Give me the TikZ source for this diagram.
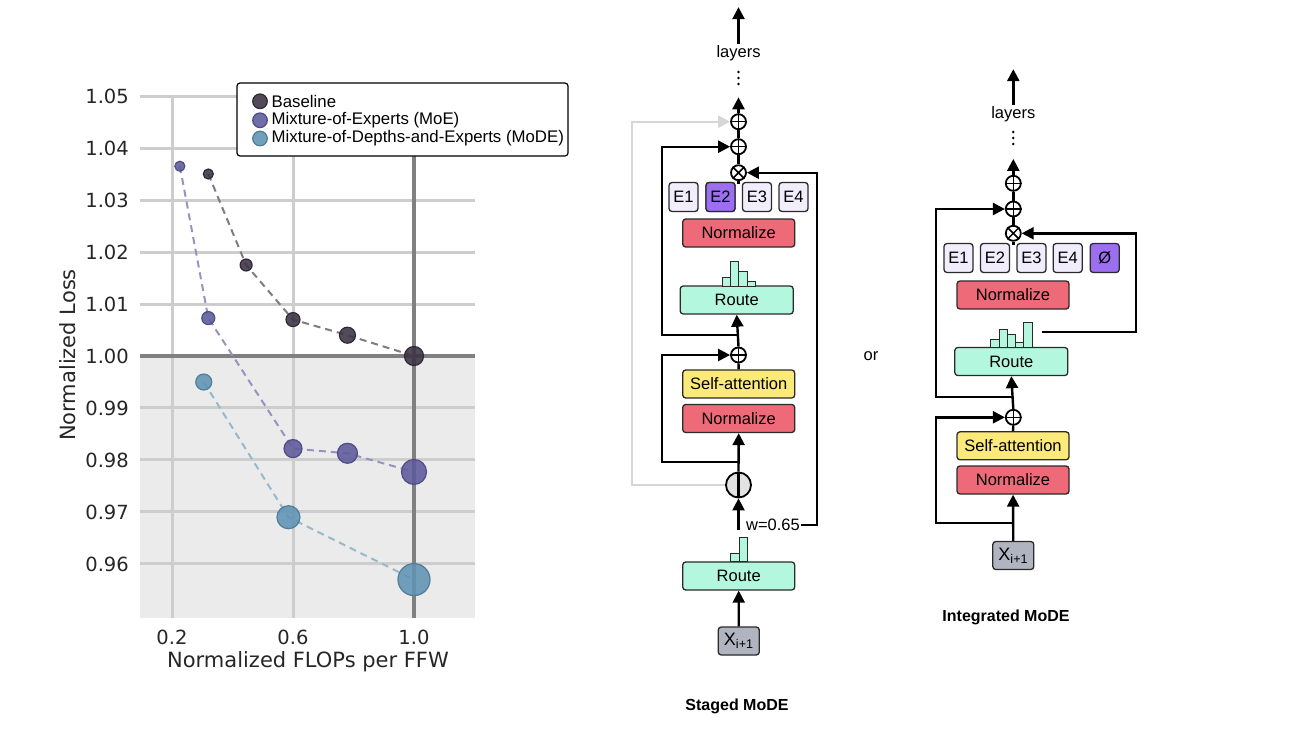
\documentclass[tikz,border=0pt]{standalone}
\usepackage{fontspec}
\setmainfont{Liberation Sans}
\newfontfamily\plotfont{DejaVu Sans}
\usetikzlibrary{arrows.meta}

\definecolor{routecol}{HTML}{B4F7DF}
\definecolor{normcol}{HTML}{EE6A78}
\definecolor{attncol}{HTML}{FBE97A}
\definecolor{expcol}{HTML}{F1EDFD}
\definecolor{hotcol}{HTML}{9C6EF0}
\definecolor{inpcol}{HTML}{B0B4C0}
\definecolor{gatecol}{HTML}{E2E2E2}
\definecolor{skipcol}{HTML}{D6D6D6}
\definecolor{basecol}{HTML}{3B3243}
\definecolor{moecol}{HTML}{5D5A9B}
\definecolor{modecol}{HTML}{5E93B4}
\definecolor{gridcol}{HTML}{CDCDCD}
\definecolor{axiscol}{HTML}{808080}
\definecolor{bgcol}{HTML}{EBEBEB}
\definecolor{inkcol}{HTML}{2A2A2A}

\tikzset{
  blk/.style={draw=inkcol, line width=1.3pt, rounded corners=3pt, minimum width=112pt, minimum height=28pt, inner sep=0pt, font=\fontsize{16.5pt}{19pt}\selectfont},
  expbox/.style={blk, fill=expcol, minimum width=29pt, minimum height=29pt},
  sumop/.style={circle, draw=black, line width=1.8pt, fill=white, minimum size=15pt, inner sep=0pt},
  arr/.style={line width=2.4pt, -{Triangle[length=12pt,width=12pt]}},
  lnk/.style={line width=2.4pt},
  hbar/.style={draw=inkcol, line width=1pt, fill=routecol},
  lab/.style={font=\fontsize{16.5pt}{19pt}\selectfont, inner sep=1pt},
  ticklab/.style={font=\plotfont\fontsize{19.5pt}{23pt}\selectfont, text=black!85, inner sep=0pt},
  baseln/.style={dashed, dash pattern=on 7pt off 5pt, line width=2pt, basecol!65},
  moeln/.style={dashed, dash pattern=on 7pt off 5pt, line width=2pt, moecol!65},
  modeln/.style={dashed, dash pattern=on 7pt off 5pt, line width=2pt, modecol!65},
  basept/.style={fill=basecol, fill opacity=.88, draw=basecol!80!black, line width=1.2pt},
  moept/.style={fill=moecol, fill opacity=.88, draw=moecol!85!black, line width=1.2pt},
  modept/.style={fill=modecol, fill opacity=.88, draw=modecol!85!black, line width=1.2pt}
}

\begin{document}
\begin{tikzpicture}[x=1pt,y=-1pt]
\useasboundingbox (0,0) rectangle (1312,752);

% plot
\begin{scope}[shift={(111.5,356)}, x=302.5pt, y=5200pt]
\fill[bgcol] (0.0942,0) rectangle (1.2017,-0.0504);
\foreach \l in {-4,...,5} \draw[gridcol, line width=3pt] (0.0942,\l/100) -- (1.2017,\l/100);
\foreach \v in {0.2,0.6} \draw[gridcol, line width=3pt] (\v,0.0502) -- (\v,-0.0504);
\draw[axiscol, line width=4pt] (0.0942,0) -- (1.2017,0) (1,0.0502) -- (1,-0.0504);
\foreach \l/\t in {5/1.05,4/1.04,3/1.03,2/1.02,1/1.01,0/1.00,-1/0.99,-2/0.98,-3/0.97,-4/0.96}
  \node[ticklab, anchor=east] at (0.0942,\l/100) [xshift=-11pt] {\t};
\foreach \v in {0.2,0.6,1.0} \node[ticklab, anchor=base] at (\v,-0.0554) {\v};

\draw[baseln] plot coordinates {(0.32,0.035) (0.445,0.0175) (0.6,0.007) (0.78,0.004) (1,0)};
\draw[moeln] plot coordinates {(0.226,0.0365) (0.32,0.0073) (0.6,-0.0178) (0.78,-0.0187) (1,-0.0223)};
\draw[modeln] plot coordinates {(0.305,-0.005) (0.585,-0.031) (1,-0.043)};
\foreach \v/\l/\r in {0.32/0.035/5pt,0.445/0.0175/6pt,0.6/0.007/7pt,0.78/0.004/8pt,1/0/9.5pt}
  \draw[basept] (\v,\l) circle[radius=\r];
\foreach \v/\l/\r in {0.226/0.0365/5pt,0.32/0.0073/6.5pt,0.6/-0.0178/9pt,0.78/-0.0187/10pt,1/-0.0223/12.5pt}
  \draw[moept] (\v,\l) circle[radius=\r];
\foreach \v/\l/\r in {0.305/-0.005/8pt,0.585/-0.031/11.5pt,1/-0.043/16pt}
  \draw[modept] (\v,\l) circle[radius=\r];
\end{scope}

\node[font=\plotfont\fontsize{21pt}{25pt}\selectfont, text=black!85, rotate=90] (ylab) at (68,355) {Normalized Loss};
\node[font=\plotfont\fontsize{21pt}{25pt}\selectfont, text=black!85] (xlab) at (308,662) {Normalized FLOPs per FFW};

% legend
\draw[black, line width=1.2pt, fill=white, rounded corners=3pt] (237,83) rectangle (568,156);
\foreach \y/\s/\t in {101.3/basept/Baseline,120.3/moept/Mixture-of-Experts (MoE),138.5/modept/Mixture-of-Depths-and-Experts (MoDE)} {
  \draw[\s] (260,\y) circle[radius=7.3pt];
  \node[lab, anchor=west, font=\fontsize{16.8pt}{19pt}\selectfont] at (270.5,\y) {\t};
}

% staged MoDE
\node[blk, fill=inpcol, minimum width=41pt, font=\fontsize{18pt}{20pt}\selectfont] (sx) at (738.8,641) {X\textsubscript{i+1}};
\node[blk, fill=routecol] (sr1) at (738.7,576) {Route};
\node[circle, draw=black, line width=1.8pt, fill=gatecol, minimum size=25pt, inner sep=0pt] (sgate) at (738.5,485) {};
\node[blk, fill=normcol] (sn1) at (738.7,418.5) {Normalize};
\node[blk, fill=attncol] (sat) at (738.7,384) {Self-attention};
\node[sumop] (sp1) at (738.5,355) {};
\node[blk, fill=routecol, minimum width=113pt] (sr2) at (736.7,300) {Route};
\node[blk, fill=normcol] (sn2) at (738.7,233) {Normalize};
\foreach \x/\n in {683.5/1,720.5/2,757/3,793.5/4} \node[expbox] (se\n) at (\x,197) {E\n};
\node[expbox, fill=hotcol] at (se2) {E2};
\node[sumop] (smul) at (738.5,172.7) {};
\node[sumop] (sp2) at (738.5,146.7) {};
\node[sumop] (sp3) at (738.5,121.7) {};
\node[lab] (slayers) at (738.5,53) {layers};
\node[lab] (swt) at (773,525) {w=0.65};
\node[lab, font=\fontsize{16pt}{19pt}\selectfont\bfseries] (stitle) at (737,706) {Staged MoDE};

\foreach \h [count=\i] in {8.3,24.3,14.3,4.3} \draw[hbar] ({722.3+(\i-1)*8.3},286) rectangle ++(8.3,-\h);
\foreach \h [count=\i] in {8.3,24.3} \draw[hbar] ({730.7+(\i-1)*8.3},561.7) rectangle ++(8.3,-\h);

\coordinate (sgin) at (738.5,530);
\coordinate (sbr1) at (738.5,462);
\coordinate (sbr2) at (738.5,335);
\draw[arr] (sx) -- (sr1);
\draw[arr] (sgin) -- (sgate.south);
\draw[lnk] (sgate.north) -- (sgate.south);
\draw[arr] (sgate.north) -- (sn1.south);
\draw[arr] (sbr1) -- ++(-76.5,0) |- (sp1.west);
\draw[arr, skipcol] (sgate.west) -- ++(-93,0) |- (sp3.west);
\draw[lnk] (sat.north) -- (sp1.south);
\draw[arr] (sp1.north) -- (sr2.south);
\draw[arr] (sbr2) -- ++(-76.5,0) |- (sp2.west);
\draw[arr] (swt.east) -- ++(16,0) |- (smul.east);
\draw[lnk] (smul.north) -- (sp2.south) (sp2.north) -- (sp3.south);
\draw[lnk] (smul.south) -- ++(0,3);
\draw[arr] (sp3.north) -- ++(0,-16);
\draw[arr] (slayers.north) -- ++(0,-37);
\foreach \d in {72,78,84} \fill (738.5,\d) circle[radius=1.4pt];

% or
\node[lab] (orlab) at (871,356) {or};

% integrated MoDE
\node[blk, fill=inpcol, minimum width=41pt, font=\fontsize{18pt}{20pt}\selectfont] (ix) at (1013.3,555.5) {X\textsubscript{i+1}};
\node[blk, fill=normcol] (in1) at (1013,480) {Normalize};
\node[blk, fill=attncol] (iat) at (1013,445.8) {Self-attention};
\node[sumop] (ip1) at (1013.3,417.3) {};
\node[blk, fill=routecol, minimum width=113pt] (ir) at (1011.3,361.5) {Route};
\node[blk, fill=normcol] (in2) at (1013,295) {Normalize};
\foreach \x/\n in {958.5/1,995/2,1031.5/3,1067.7/4} \node[expbox] (ie\n) at (\x,258) {E\n};
\node[expbox, fill=hotcol] (ie5) at (1104.7,258) {\O};
\node[sumop] (imul) at (1013.3,233.3) {};
\node[sumop] (ip2) at (1013.3,209) {};
\node[sumop] (ip3) at (1013.3,183.3) {};
\node[lab] (ilayers) at (1013.3,114) {layers};
\node[lab, font=\fontsize{16pt}{19pt}\selectfont\bfseries] (ititle) at (1006,617) {Integrated MoDE};

\foreach \h [count=\i] in {8,18,13.3,4.7,24.7} \draw[hbar] ({990.7+(\i-1)*8.3},347.3) rectangle ++(8.3,-\h);

\coordinate (ibr1) at (1013.3,522.7);
\coordinate (ibr2) at (1013.3,396.7);
\coordinate (ihist) at (1041.7,331.7);
\draw[arr] (ix) -- (in1);
\draw[arr] (ibr1) -- ++(-77.3,0) |- (ip1.west);
\draw[lnk] (iat.north) -- (ip1.south);
\draw[arr] (ip1.north) -- (ir.south);
\draw[arr] (ibr2) -- ++(-77.3,0) |- (ip2.west);
\draw[arr] (ihist) -- ++(94,0) |- (imul.east);
\draw[lnk] (imul.north) -- (ip2.south) (ip2.north) -- (ip3.south);
\draw[lnk] (imul.south) -- ++(0,3);
\draw[arr] (ip3.north) -- ++(0,-16);
\draw[arr] (ilayers.north) -- ++(0,-36);
\foreach \d in {132,138,144} \fill (1013.3,\d) circle[radius=1.4pt];

% op symbols
\foreach \n in {sp1,sp2,sp3,ip1,ip2,ip3} \draw[line width=1.5pt] (\n.north) -- (\n.south) (\n.west) -- (\n.east);
\foreach \n in {smul,imul} \draw[line width=1.5pt] (\n.north east) -- (\n.south west) (\n.north west) -- (\n.south east);
\end{tikzpicture}
\end{document}
